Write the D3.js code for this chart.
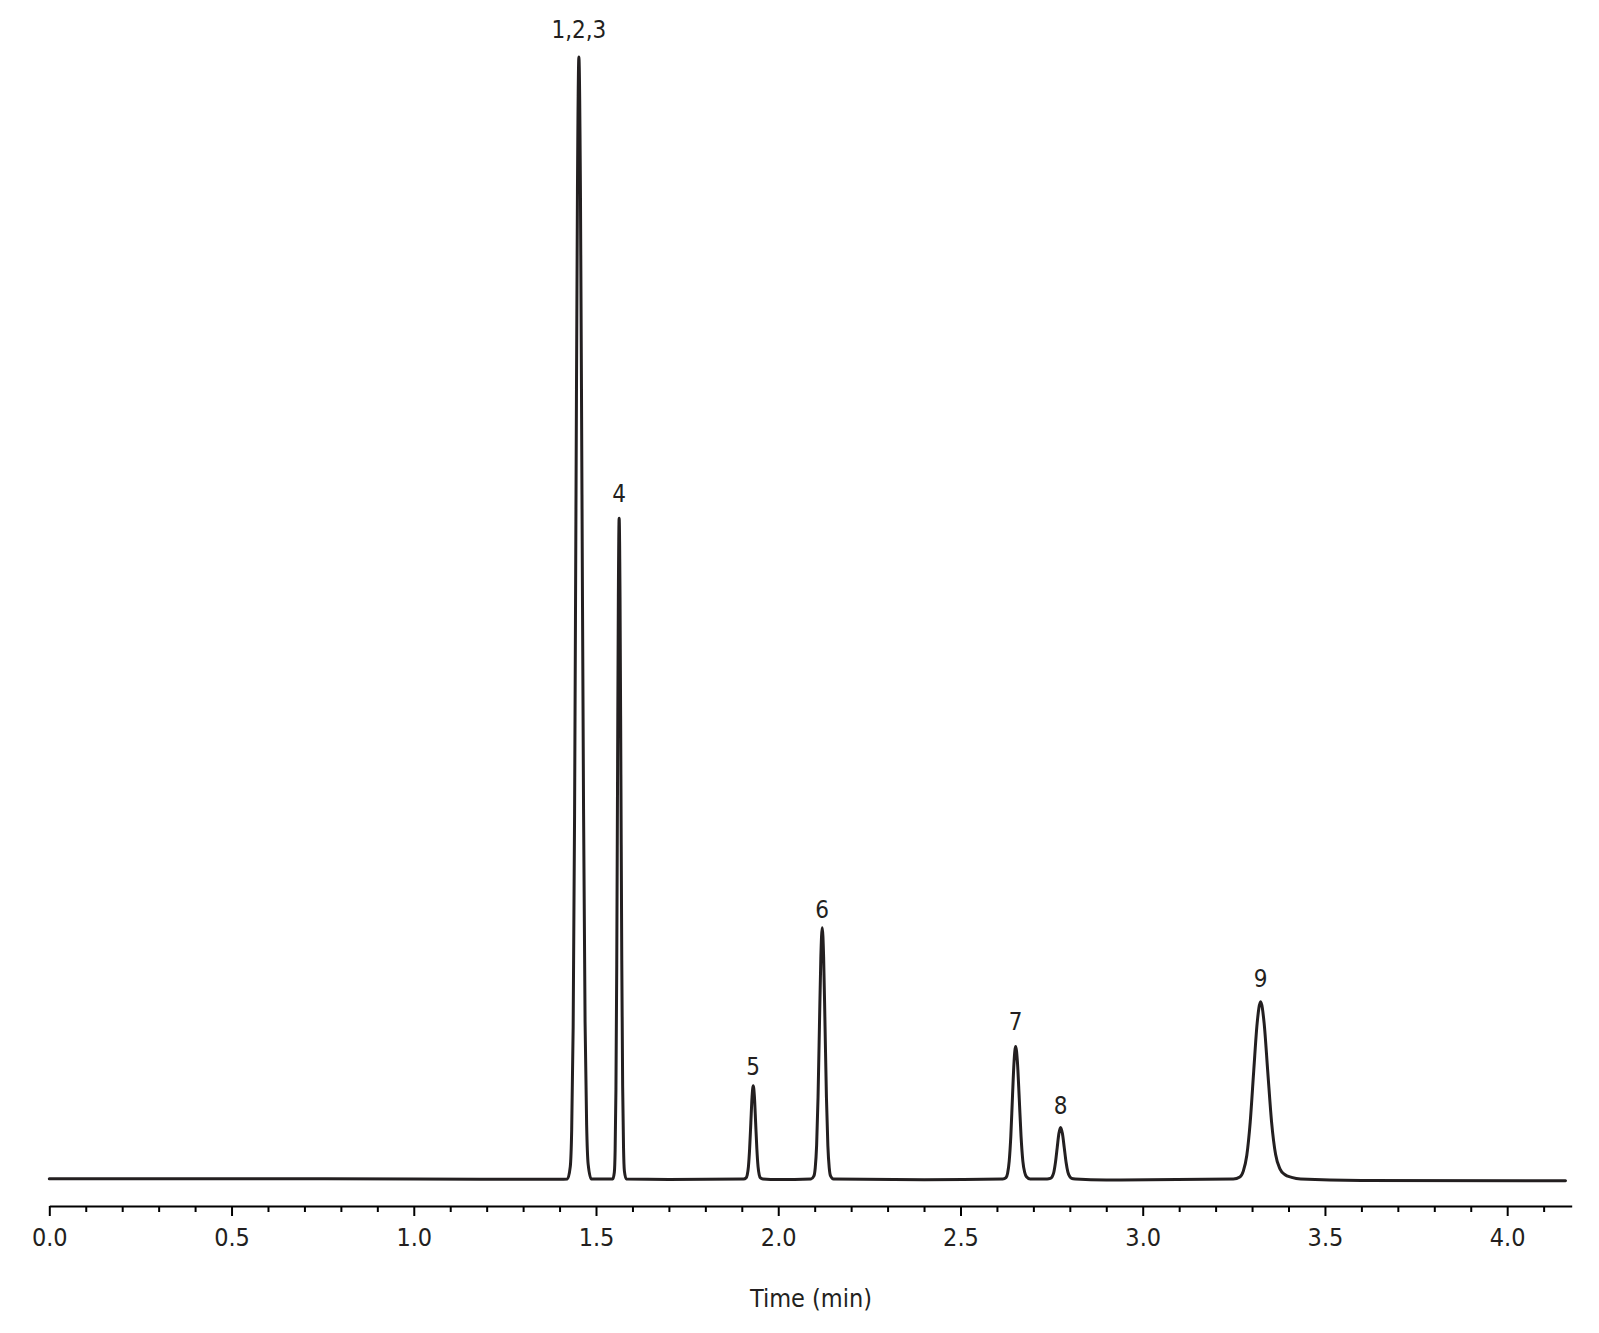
<!DOCTYPE html>
<html>
<head>
<meta charset="utf-8">
<script src="https://cdn.jsdelivr.net/npm/d3@7"></script>
<style>
  html, body { margin: 0; padding: 0; background: #fff; }
  svg { display: block; }
  .lbl { font-family: "Liberation Sans Narrow", "Arial Narrow", "DejaVu Sans Condensed", sans-serif; fill: #231f20; }
</style>
</head>
<body>
<svg id="chart" width="1599" height="1333"></svg>
<script>
// ---------------- DATA (time in min, signal in arbitrary units) ----------------
const baseline = [[0,0.3],[0.5,0.2],[1.0,0],[1.4,-0.3],[1.7,-0.4],[2.0,-0.5],[2.4,-0.7],[2.9,-1.0],[3.6,-1.3],[4.16,-1.6]];

const peak123 = [[1.4215,0],[1.4294,11],[1.4333,44],[1.4373,135],[1.4412,325],[1.4451,607],[1.4491,882],[1.453,1000],
                 [1.4573,880],[1.4615,610],[1.4658,330],[1.4700,140],[1.4743,48],[1.4785,13],[1.487,0]];
const peak4   = [[1.5459,0],[1.5503,6],[1.5525,26],[1.5547,80],[1.5569,191],[1.5591,358],[1.5613,519],[1.5635,589],
                 [1.5659,519],[1.5683,360],[1.5707,195],[1.5731,83],[1.5755,28],[1.5779,7],[1.583,0]];
const peak5   = [[1.905,0],[1.9116,1],[1.9149,3.6],[1.9182,11],[1.9215,27],[1.9248,50],[1.9281,73],[1.9314,83],
                 [1.9347,73],[1.938,50],[1.9413,27],[1.9446,11],[1.9479,3.6],[1.9512,1],[1.958,0]];
const peak6   = [[2.0899,0],[2.0976,2.5],[2.1015,10],[2.1053,30],[2.1092,73],[2.113,136],[2.1169,198],[2.1207,224],
                 [2.1245,198],[2.1284,136],[2.1322,73],[2.1361,30],[2.1399,10],[2.1438,2.5],[2.1515,0]];
const peak7   = [[2.6161,0],[2.6249,1.3],[2.6293,5.2],[2.6337,16],[2.6381,38],[2.6425,72],[2.6469,104],[2.6513,118],
                 [2.6563,104],[2.6612,72],[2.6662,38],[2.6711,16],[2.6761,6],[2.681,2],[2.6913,0]];
const peak8   = [[2.7377,0],[2.7467,0.5],[2.7514,2],[2.7561,6],[2.7607,15],[2.7654,28],[2.77,40.5],[2.7747,46],
                 [2.7797,40.5],[2.7847,28],[2.7897,15],[2.7947,6.2],[2.7997,2.2],[2.8047,0.6],[2.815,0]];
const peak9   = [[3.2485,0],[3.2665,1.8],[3.276,7],[3.2855,21],[3.295,51],[3.3045,96],[3.314,139],[3.3235,158],
                 [3.3331,139],[3.343,96],[3.3535,51],[3.3645,22],[3.3765,9],[3.3895,4],[3.4085,1.5],[3.4335,0]];

const peaks = [peak123, peak4, peak5, peak6, peak7, peak8, peak9];
const peakLabels = ["1,2,3", "4", "5", "6", "7", "8", "9"];
const labelLevels = [1016.7, 603.6, 92.7, 232.4, 132.8, 57.9, 170.9];

const majorTicks = [0.0, 0.5, 1.0, 1.5, 2.0, 2.5, 3.0, 3.5, 4.0];
const minorTicks = [0.1,0.2,0.3,0.4,0.6,0.7,0.8,0.9,1.1,1.2,1.3,1.4,1.6,1.7,1.8,1.9,2.1,2.2,2.3,2.4,2.6,2.7,2.8,2.9,3.1,3.2,3.3,3.4,3.6,3.7,3.8,3.9,4.1];
const xTitle = "Time (min)";

// ---------------- LAYOUT ----------------
const svg = d3.select("#chart");
const x = d3.scaleLinear().domain([0, 4.177]).range([49.3, 1571.7]);
const y = d3.scaleLinear().domain([0, 1000]).range([1179, 57]);
const axisY = 1206;
const fontFam = '"Liberation Sans Narrow", "Arial Narrow", "DejaVu Sans Condensed", sans-serif';

// merge trace
const trace = baseline.concat(...peaks).sort((a, b) => a[0] - b[0]);

const line = d3.line()
  .x(d => x(d[0]))
  .y(d => y(d[1]))
  .curve(d3.curveMonotoneX);

svg.append("path")
  .datum(trace)
  .attr("d", line)
  .attr("fill", "none")
  .attr("stroke", "#231f20")
  .attr("stroke-width", 3)
  .attr("stroke-linejoin", "round")
  .attr("stroke-linecap", "round");

// peak labels
peaks.forEach((p, i) => {
  const apex = p.reduce((m, d) => d[1] > m[1] ? d : m, p[0]);
  svg.append("text")
    .attr("class", "lbl")
    .attr("x", x(apex[0]))
    .attr("y", y(labelLevels[i]))
    .attr("text-anchor", "middle")
    .attr("font-size", 24)
    .text(peakLabels[i]);
});

// minor ticks
const minorAxis = d3.axisBottom(x).tickValues(minorTicks).tickSize(6).tickSizeOuter(0).tickFormat("");
const gMinor = svg.append("g").attr("transform", `translate(0,${axisY})`).call(minorAxis);
gMinor.select(".domain").remove();
gMinor.selectAll(".tick line").attr("stroke", "#000").attr("stroke-width", 2);

// major ticks + domain
const majorAxis = d3.axisBottom(x).tickValues(majorTicks).tickSize(10).tickSizeOuter(0)
  .tickPadding(12).tickFormat(d3.format(".1f"));
const gMajor = svg.append("g").attr("transform", `translate(0,${axisY})`).call(majorAxis);
gMajor.select(".domain").attr("stroke", "#000").attr("stroke-width", 2.2);
gMajor.selectAll(".tick line").attr("stroke", "#000").attr("stroke-width", 2);
gMajor.selectAll(".tick text")
  .attr("font-family", fontFam)
  .attr("font-size", 25)
  .attr("fill", "#231f20");

// axis title
svg.append("text")
  .attr("class", "lbl")
  .attr("x", x(2.09))
  .attr("y", 1307)
  .attr("text-anchor", "middle")
  .attr("font-size", 25)
  .text(xTitle);
</script>
</body>
</html>
